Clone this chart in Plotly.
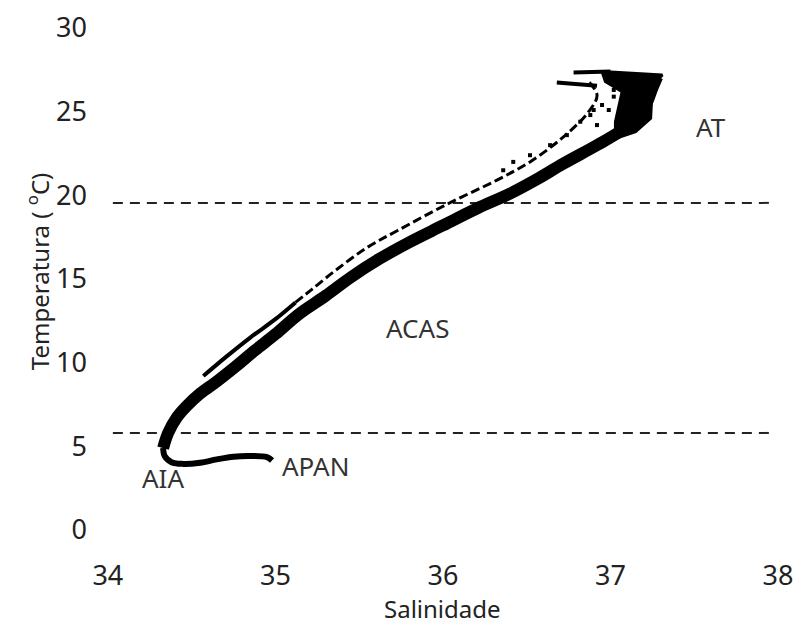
import plotly.graph_objects as go

# ---------------- data ----------------
# APAN tail (deep water, thin hook at the bottom)
tail_sal = [34.98, 34.95, 34.85, 34.75, 34.65, 34.55, 34.45, 34.38, 34.34, 34.33]
tail_temp = [4.15, 4.35, 4.42, 4.38, 4.22, 4.02, 3.95, 4.05, 4.40, 4.90]

# main T-S band (AIA -> ACAS -> AT)
main_sal = [34.33, 34.36, 34.41, 34.47, 34.55, 34.64, 34.76, 34.88, 35.00, 35.14,
            35.30, 35.45, 35.62, 35.80, 36.00, 36.20, 36.40, 36.55, 36.72, 36.92,
            37.07, 37.17, 37.22, 37.25, 37.28]
main_temp = [4.9, 5.8, 6.7, 7.4, 8.15, 8.8, 9.75, 10.75, 11.7, 12.9,
             14.0, 15.1, 16.2, 17.2, 18.2, 19.2, 20.1, 20.9, 21.9, 23.0,
             23.9, 24.7, 25.6, 26.4, 27.1]

# secondary (upper) branch of stations: continuous lower part, broken upper part
upper_low_sal = [34.57, 34.70, 34.85, 35.00, 35.12]
upper_low_temp = [9.2, 10.3, 11.5, 12.6, 13.6]
upper_high_sal = [35.12, 35.22, 35.37, 35.55, 35.73, 36.03, 36.32,
                  36.52, 36.72, 36.87, 36.92, 36.86]
upper_high_temp = [13.6, 14.4, 15.6, 16.9, 17.9, 19.5, 20.9,
                   22.0, 23.5, 25.0, 26.0, 26.9]

# scattered surface / upper stations (individual dots)
dots_sal = [37.17, 37.21, 37.15, 37.02, 37.02, 36.95, 36.99, 36.90, 36.92, 36.88,
            36.82, 36.74, 36.64, 36.52, 36.42, 36.36]
dots_temp = [26.5, 26.1, 26.1, 26.3, 25.9, 25.4, 25.1, 25.1, 24.2, 24.8,
             24.4, 23.6, 23.0, 22.4, 22.0, 21.5]

# dense surface cluster (AT) outline
surf_sal = [36.95, 37.31, 37.25, 37.24, 37.15, 37.03, 37.03, 37.07, 36.97, 36.95]
surf_temp = [27.4, 27.2, 26.6, 24.6, 23.8, 23.4, 24.4, 26.2, 26.8, 27.4]

# short surface streaks
streak1_sal = [36.78, 37.00]
streak1_temp = [27.35, 27.40]
streak2_sal = [36.68, 36.92]
streak2_temp = [26.75, 26.55]

# water-mass boundaries (temperature)
boundary_temp = [19.55, 5.8]
boundary_sal = [34.03, 37.98]

# labels
mass_names = ["AT", "ACAS", "APAN", "AIA"]
mass_sal = [37.60, 35.85, 35.24, 34.33]
mass_temp = [24.1, 12.1, 3.8, 3.1]

x_ticks = [34, 35, 36, 37, 38]
y_ticks = [0, 5, 10, 15, 20, 25, 30]

# ---------------- figure ----------------
fig = go.Figure()

for t in boundary_temp:
    fig.add_trace(go.Scatter(x=boundary_sal, y=[t, t], mode="lines",
                             line=dict(color="#222", width=2, dash="10px,7px"),
                             hoverinfo="skip", showlegend=False))

fig.add_trace(go.Scatter(x=upper_low_sal, y=upper_low_temp, mode="lines",
                         line=dict(color="black", width=4, shape="spline"),
                         showlegend=False))
fig.add_trace(go.Scatter(x=upper_high_sal, y=upper_high_temp, mode="lines",
                         line=dict(color="black", width=3, dash="9px,4px", shape="spline"),
                         showlegend=False))
fig.add_trace(go.Scatter(x=dots_sal, y=dots_temp, mode="markers",
                         marker=dict(color="black", size=4, symbol="square"),
                         showlegend=False))
fig.add_trace(go.Scatter(x=tail_sal, y=tail_temp, mode="lines",
                         line=dict(color="black", width=6, shape="spline"),
                         showlegend=False))
fig.add_trace(go.Scatter(x=main_sal, y=main_temp, mode="lines",
                         line=dict(color="black", width=12, shape="spline"),
                         showlegend=False))
fig.add_trace(go.Scatter(x=surf_sal, y=surf_temp, mode="lines", fill="toself",
                         fillcolor="black", line=dict(color="black", width=3),
                         showlegend=False))
for sx, sy in [(streak1_sal, streak1_temp), (streak2_sal, streak2_temp)]:
    fig.add_trace(go.Scatter(x=sx, y=sy, mode="lines",
                             line=dict(color="black", width=4), showlegend=False))

annotations = []
for name, s, t in zip(mass_names, mass_sal, mass_temp):
    annotations.append(dict(x=s, y=t, xref="x", yref="y", text=name, showarrow=False,
                            font=dict(family="Noto Sans", size=26, color="#333")))
annotations.append(dict(x=36, y=0, xref="x", yref="paper", yanchor="top", yshift=-33,
                        xanchor="center", text="Salinidade", showarrow=False,
                        font=dict(family="Noto Sans", size=24, color="#222")))
annotations.append(dict(x=-0.071, y=0.529, xref="paper", yref="paper",
                        xanchor="center", yanchor="middle",
                        text="Temperatura ( <sup>o</sup>C)", textangle=-90, showarrow=False,
                        font=dict(family="Noto Sans", size=24, color="#222")))

fig.update_layout(
    width=801, height=624,
    margin=dict(l=88, r=8, t=18, b=67),
    paper_bgcolor="white", plot_bgcolor="white",
    annotations=annotations,
    xaxis=dict(range=[33.8815, 38.06], tickvals=x_ticks, showgrid=False,
               zeroline=False, showline=False, ticks="",
               tickfont=dict(family="Noto Sans", size=27, color="#222")),
    yaxis=dict(range=[-1.614, 30.60], tickvals=y_ticks, showgrid=False,
               zeroline=False, showline=False, ticks="",
               tickfont=dict(family="Noto Sans", size=27, color="#222")),
)

fig.write_html("out.html", config={"displayModeBar": False},
               post_script="document.body.style.margin='0';document.body.style.overflow='hidden';")
